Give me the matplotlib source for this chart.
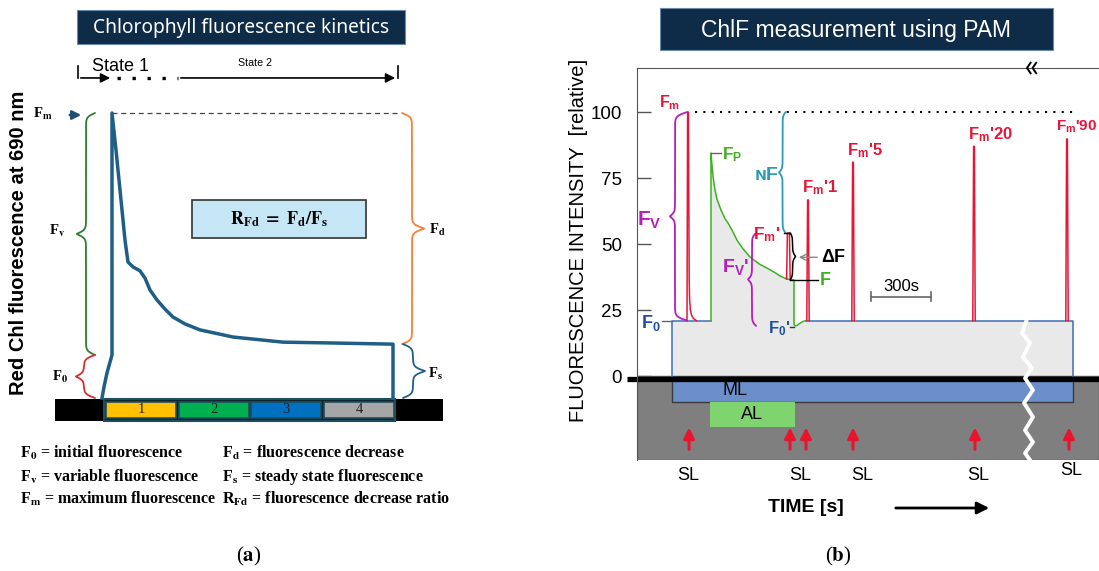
import numpy as np
import matplotlib
matplotlib.use("Agg")
import matplotlib.pyplot as plt
from matplotlib.patches import Rectangle

plt.rcParams['font.family'] = ['Liberation Sans', 'DejaVu Sans']
plt.rcParams['mathtext.fontset'] = 'custom'
plt.rcParams['mathtext.rm'] = 'Liberation Sans'
plt.rcParams['mathtext.bf'] = 'Liberation Sans:bold'
plt.rcParams['mathtext.it'] = 'Liberation Sans:italic'
plt.rcParams['mathtext.sf'] = 'Liberation Sans'

W, H = 1099, 571

# ---------------- panel (a) data : schematic Kautsky curve -----------------
# time in arbitrary units, fluorescence in % of Fm
kin_t = [47, 49, 52, 55, 57, 57, 61, 66, 70, 73, 78, 85, 90, 95, 102, 110,
         118, 130, 145, 178, 228, 278, 338, 338]
kin_f = [0, 3.9, 8.8, 12.6, 15.1, 100, 87, 69.5, 55.4, 47.7, 46, 44.6, 42.1,
         37.9, 34.4, 31.2, 28.4, 26, 23.9, 21.4, 19.6, 19.3, 18.9, 0]
F0_a, Fs_a, Fm_a = 15.1, 18.9, 100
light_start = [51, 124, 196, 269]
light_len = 70
light_lab = ['1', '2', '3', '4']
light_col = ['#ffc000', '#00b050', '#0070c0', '#a6a6a6']

legend_rows = [
    (r"F$_{\mathbf{0}}$ = initial fluorescence", r"F$_{\mathbf{d}}$ = fluorescence decrease"),
    (r"F$_{\mathbf{v}}$ = variable fluorescence", r"F$_{\mathbf{s}}$ = steady state fluorescence"),
    (r"F$_{\mathbf{m}}$ = maximum fluorescence", r"R$_{\mathbf{Fd}}$ = fluorescence decrease ratio"),
]

# ---------------- panel (b) data : PAM protocol -----------------------------
# time in s (300 s scale bar), fluorescence relative
F0_b, Fm_b, Fp_b, Fmp_b, F_b, F0p_b = 21, 100, 84.5, 54.2, 36.4, 19
t_ml_on, t_ml_off = 175, 2180
t_al_on, t_al_off = 365, 790

fm_t = [250, 253, 257, 261, 263, 267, 273, 282, 297]
fm_f = [21, 100, 100, 36, 29, 25, 23, 21.8, 21]

al_t = [370, 370, 374, 379, 385, 390, 400, 420, 440, 455, 475, 500, 530, 565,
        610, 650, 690, 715, 740, 755, 785, 785, 792, 800, 815, 830, 845]
al_f = [21, 84.5, 80.5, 76.5, 73, 70.5, 67, 62.9, 59.6, 58, 55.3, 51.5, 48.2,
        45.1, 42.5, 40.9, 39.2, 37.9, 37.1, 36.7, 36.4, 19.5, 19, 19.2, 20,
        20.7, 21]

fmp_t = [748, 752, 762, 766]
fmp_f = [36.7, 54.2, 54.2, 36.7]

spike_t = [855, 1080, 1685, 2150]
spike_f = [66.7, 81, 87, 89.8]
spike_lab = ["1", "5", "20", "90"]

sl_arrow_t = [260, 765, 845, 1080, 1690, 2160]
sl_label_t = [255, 815, 1125, 1705, 2170]

zig_t = [1950, 1925, 1965, 1930, 1975, 1940, 1980, 1935, 1980, 1940, 1980, 1940, 1965]
zig_f = [21.6, 16.3, 12.5, 7.2, 3.0, -0.8, -5.3, -10.2, -15.5, -20.5, -25, -29.2, -31.8]


def box(x0, y0, x1, y1):
    return [x0 / W, 1 - y1 / H, (x1 - x0) / W, (y1 - y0) / H]


def brace(ax, x, y0, y1, hook, tip, ppu, color, lw=1.3):
    # vertical curly brace; hook/tip are signed horizontal offsets
    n = 300
    L = abs(y1 - y0)
    s = np.linspace(0, L / 2, n)
    k = ppu / 2.0
    half = 1 / (1 + np.exp(-k * (s - s[0]))) + 1 / (1 + np.exp(-k * (s - s[-1])))
    dev = np.concatenate([half, half[::-1]]) - 1
    yy = np.linspace(min(y0, y1), max(y0, y1), 2 * n)
    xx = x + np.where(dev < 0, -dev * 2 * hook, dev * 2 * tip)
    ax.plot(xx, yy, color=color, lw=lw, clip_on=False, solid_capstyle='round')


fig = plt.figure(figsize=(W / 100, H / 100), dpi=100)

deco = fig.add_axes([0, 0, 1, 1])
deco.set_xlim(0, W)
deco.set_ylim(H, 0)
deco.axis('off')

# titles
deco.add_patch(Rectangle((77, 10), 328, 34, facecolor='#0e2b48', edgecolor='#6b8aa8', lw=0.8))
deco.text(241, 27.5, 'Chlorophyll fluorescence kinetics', color='white', fontsize=13.8,
          family='Noto Sans', ha='center', va='center')
deco.add_patch(Rectangle((660, 8), 393, 42, facecolor='#0e2b48', edgecolor='#6b8aa8', lw=0.8))
deco.text(856, 30, 'ChlF measurement using PAM', color='white', fontsize=16.5,
          ha='center', va='center')

deco.text(19, 243, 'Red Chl fluorescence at 690 nm', rotation=90, fontsize=14.5,
          fontweight='bold', ha='center', va='center')
deco.text(578, 240, 'FLUORESCENCE INTENSITY  [relative]', rotation=90, fontsize=14.5,
          ha='center', va='center')

for i, (c1, c2) in enumerate(legend_rows):
    y = [453, 477, 499][i]
    for x, s in [(20, c1), (222, c2)]:
        deco.text(x, y, s, fontsize=11.5, family='Liberation Serif', fontweight='bold',
                  math_fontfamily='stix', ha='left', va='center')

deco.text(249, 556, r'($\mathbf{a}$)', fontsize=15, family='Liberation Serif',
          math_fontfamily='stix', ha='center', va='center')
deco.text(838, 556, r'($\mathbf{b}$)', fontsize=15, family='Liberation Serif',
          math_fontfamily='stix', ha='center', va='center')

deco.text(806, 508, 'TIME [s]', fontsize=14, fontweight='bold', ha='center', va='center')
deco.annotate('', xy=(992, 508), xytext=(893, 508),
              arrowprops=dict(arrowstyle='-|>', color='black', lw=2, mutation_scale=18))

# ---------------- panel (a) -------------------------------------------------
axa = fig.add_axes(box(55, 60, 443, 425))
axa.set_xlim(0, 388)
axa.set_ylim(-9.47, 118.6)
axa.axis('off')
ppu_a = 2.85
blue_a = '#1f5f86'
serif = dict(family='Liberation Serif', fontweight='bold', math_fontfamily='stix')

axa.add_patch(Rectangle((0, -8.07), 388, 7.72, facecolor='black', edgecolor='none', clip_on=False))
axa.add_patch(Rectangle((49, -8.07), 291, 7.72, facecolor='#10232b', edgecolor='#1d4e5e',
                        lw=1.5, clip_on=False))
for x0, lab, col in zip(light_start, light_lab, light_col):
    axa.add_patch(Rectangle((x0, -7.0), light_len, 5.6, facecolor=col, edgecolor='#1d4e5e',
                            lw=1.2, clip_on=False))
    axa.text(x0 + light_len / 2, -4.2, lab, fontsize=10.5, family='Liberation Serif',
             color='#222222', ha='center', va='center', clip_on=False)

axa.plot([57, 345], [Fm_a, Fm_a], color='#444444', lw=0.9, dashes=(4, 3), clip_on=False)
axa.plot(kin_t, kin_f, color=blue_a, lw=2.5, solid_joinstyle='round', clip_on=False)

axa.annotate('', xy=(29, 99.3), xytext=(12, 99.3),
             arrowprops=dict(arrowstyle='-|>', color='#1f4e6e', lw=1.8, mutation_scale=13))
axa.text(-12, 99.5, r'F$_{\mathbf{m}}$', fontsize=10.5, ha='center', va='center', **serif)

brace(axa, 31, F0_a, Fm_a, 9, -9, ppu_a, '#2e7d32')
brace(axa, 29, 0, F0_a, 11, -8, ppu_a, '#d32f2f')
brace(axa, 357, Fs_a, Fm_a, -10, 12, ppu_a, '#f4803a')
brace(axa, 358, 0, Fs_a, -10, 12, ppu_a, blue_a)
axa.text(2, 58.6, r'F$_{\mathbf{v}}$', fontsize=10.5, ha='center', va='center', **serif)
axa.text(5, 7.4, r'F$_{\mathbf{0}}$', fontsize=10.5, ha='center', va='center', **serif)
axa.text(382, 59, r'F$_{\mathbf{d}}$', fontsize=10.5, ha='center', va='center', **serif)
axa.text(380, 8.4, r'F$_{\mathbf{s}}$', fontsize=10.5, ha='center', va='center', **serif)

axa.add_patch(Rectangle((137, 56.1), 174, 13.4, facecolor='#c5e6f5', edgecolor='#333333', lw=1.2))
axa.text(224, 62.8, r'$\mathbf{R_{Fd}\ =\ F_d/F_s}$', fontsize=13, math_fontfamily='stix',
         ha='center', va='center')

# state arrows
ys, yt = 112.3, 116.5
axa.plot([23, 23], [yt, ys], color='black', lw=1.2, clip_on=False)
axa.annotate('', xy=(58, ys), xytext=(23, ys),
             arrowprops=dict(arrowstyle='-|>', color='black', lw=1.2, mutation_scale=14))
axa.plot([62, 123], [ys, ys], color='black', lw=2.4, ls=(0, (1, 3.5)), clip_on=False)
axa.annotate('', xy=(343, ys), xytext=(123, ys),
             arrowprops=dict(arrowstyle='-|>', color='black', lw=1.2, mutation_scale=14))
axa.plot([343, 343], [yt, ys], color='black', lw=1.2, clip_on=False)
axa.text(66, 116.3, 'State 1', fontsize=13, ha='center', va='center')
axa.text(200, 117.6, 'State 2', fontsize=7.7, ha='center', va='center')

# ---------------- panel (b) -------------------------------------------------
axb = fig.add_axes(box(637, 68, 1099, 460))
axb.set_xlim(0, 2310)
axb.set_ylim(-31.8, 116.7)
ppu_b = 2.64
red, purple, green, blue_b, teal = '#e3173a', '#b51fb8', '#3cb21e', '#1f4fa0', '#2a9ab5'

for sp in ['right', 'bottom']:
    axb.spines[sp].set_visible(False)
for sp in ['left', 'top']:
    axb.spines[sp].set_color('#555555')
axb.set_xticks([])
axb.set_yticks([0, 25, 50, 75, 100])
axb.tick_params(axis='y', direction='in', length=10, width=1, color='#555555',
                pad=11, labelsize=13.5)

axb.add_patch(Rectangle((0, -31.8), 2310, 31.8, facecolor='#7f7f7f', edgecolor='#555555', lw=1))

env_t = [t_ml_on, 370] + al_t[1:] + [t_ml_off]
env_f = [F0_b, F0_b] + al_f[1:] + [F0_b]
axb.fill_between(env_t, 0, env_f, color='#e9e9e9', lw=0)

axb.add_patch(Rectangle((t_ml_on, -9.8), t_ml_off - t_ml_on, 9.8, facecolor='#6a8fcb',
                        edgecolor='#3a3a3a', lw=1))
axb.add_patch(Rectangle((t_al_on, -19.3), t_al_off - t_al_on, 9.5, facecolor='#7fd46f',
                        edgecolor='none'))
axb.text(490, -5.5, 'ML', fontsize=13, ha='center', va='center')
axb.text(575, -14.6, 'AL', fontsize=13, ha='center', va='center')

axb.plot([-50, 2310], [-1.3, -1.3], color='black', lw=3.8, clip_on=False, solid_capstyle='butt')

# fluorescence trace
bl = dict(color='#3d6fb5', lw=1.1)
axb.plot([t_ml_on, t_ml_on, 370], [0, F0_b, F0_b], **bl)
axb.plot([845, t_ml_off, t_ml_off], [F0_b, F0_b, 0], **bl)
axb.plot(fm_t, fm_f, color=red, lw=1.1)
axb.plot(al_t, al_f, color=green, lw=1.1)
axb.plot(fmp_t, fmp_f, color=red, lw=1.1)
for c, p in zip(spike_t, spike_f):
    axb.plot([c - 6, c - 2, c + 2, c + 6], [F0_b, p, p, F0_b], color=red, lw=1.1)

axb.plot([290, 2200], [Fm_b, Fm_b], color='black', lw=1.5, ls=(0, (1, 3)))

# braces and pointers
brace(axb, 190, F0_b, Fm_b, 60, -25, ppu_b, purple)
brace(axb, 728, Fmp_b, Fm_b, 15, -18, ppu_b, teal)
brace(axb, 575, F0p_b, Fmp_b, 20, -20, ppu_b, purple)
brace(axb, 778, F_b, Fmp_b, -12, 15, ppu_b, 'black', lw=1.1)
axb.plot([735, 765], [Fmp_b, Fmp_b], color='black', lw=1)
axb.plot([765, 905], [F_b, F_b], color='black', lw=1)
axb.plot([370, 420], [Fp_b, Fp_b], color='#666666', lw=1)
axb.plot([125, t_ml_on], [F0_b, F0_b], color='#666666', lw=1)
axb.plot([765, 785], [18.5, 18.5], color='#333333', lw=1)
axb.annotate('', xy=(795, 45), xytext=(915, 45),
             arrowprops=dict(arrowstyle='->', color='#888888', lw=1, mutation_scale=12))

lab = dict(fontweight='bold', va='center')
axb.text(165, 103.6, r'F$_{\mathbf{m}}$', color=red, fontsize=11.5, ha='center', **lab)
axb.text(125, 59, r'F$_{\mathbf{V}}$', color=purple, fontsize=15, ha='right', **lab)
axb.text(425, 84, r'F$_{\mathbf{P}}$', color=green, fontsize=12.5, ha='left', **lab)
axb.text(705, 76, 'ɴF', color=teal, fontsize=14, ha='right', **lab)
axb.text(715, 53.5, r"F$_{\mathbf{m}}$'", color=red, fontsize=12.5, ha='right', **lab)
axb.text(560, 41.5, r"F$_{\mathbf{V}}$'", color=purple, fontsize=14, ha='right', **lab)
axb.text(920, 45, 'ΔF', color='black', fontsize=13, ha='left', **lab)
axb.text(915, 36.2, 'F', color=green, fontsize=13, ha='left', **lab)
axb.text(120, 20, r'F$_{\mathbf{0}}$', color=blue_b, fontsize=13, ha='right', **lab)
axb.text(765, 18, r"F$_{\mathbf{0}}$'", color=blue_b, fontsize=12, ha='right', **lab)
for c, p, s in zip(spike_t, spike_f, spike_lab):
    fs = 12 if s != "90" else 11
    axb.text(c - 30 if s != "90" else c - 55, p + 4.5, r"F$_{\mathbf{m}}$'" + s, color=red,
             fontsize=fs, ha='left', clip_on=False, **lab)

# 300 s scale bar
axb.plot([1170, 1470], [30, 30], color='#666666', lw=1.2)
axb.plot([1170, 1170], [28.3, 31.7], color='#666666', lw=1.2)
axb.plot([1470, 1470], [28.3, 31.7], color='#666666', lw=1.2)
axb.text(1320, 34, '300s', fontsize=12, ha='center', va='center')

# saturation pulses
for x in sl_arrow_t:
    axb.annotate('', xy=(x, -18.4), xytext=(x, -28.8),
                 arrowprops=dict(arrowstyle='-|>', color='#e8142e', lw=2.2, mutation_scale=16))
for i, x in enumerate(sl_label_t):
    axb.text(x, -37.5 if i < 4 else -35.7, 'SL', fontsize=13, ha='center', va='center',
             clip_on=False)

# axis break marks
axb.plot(zig_t, zig_f, color='white', lw=2.8, clip_on=False, zorder=5)
for cx in [1950, 1978]:
    axb.plot([cx + 18, cx, cx + 18], [118.7, 116.7, 114.7], color='black', lw=1.4,
             clip_on=False, zorder=5)

fig.savefig('out.png', dpi=100)
